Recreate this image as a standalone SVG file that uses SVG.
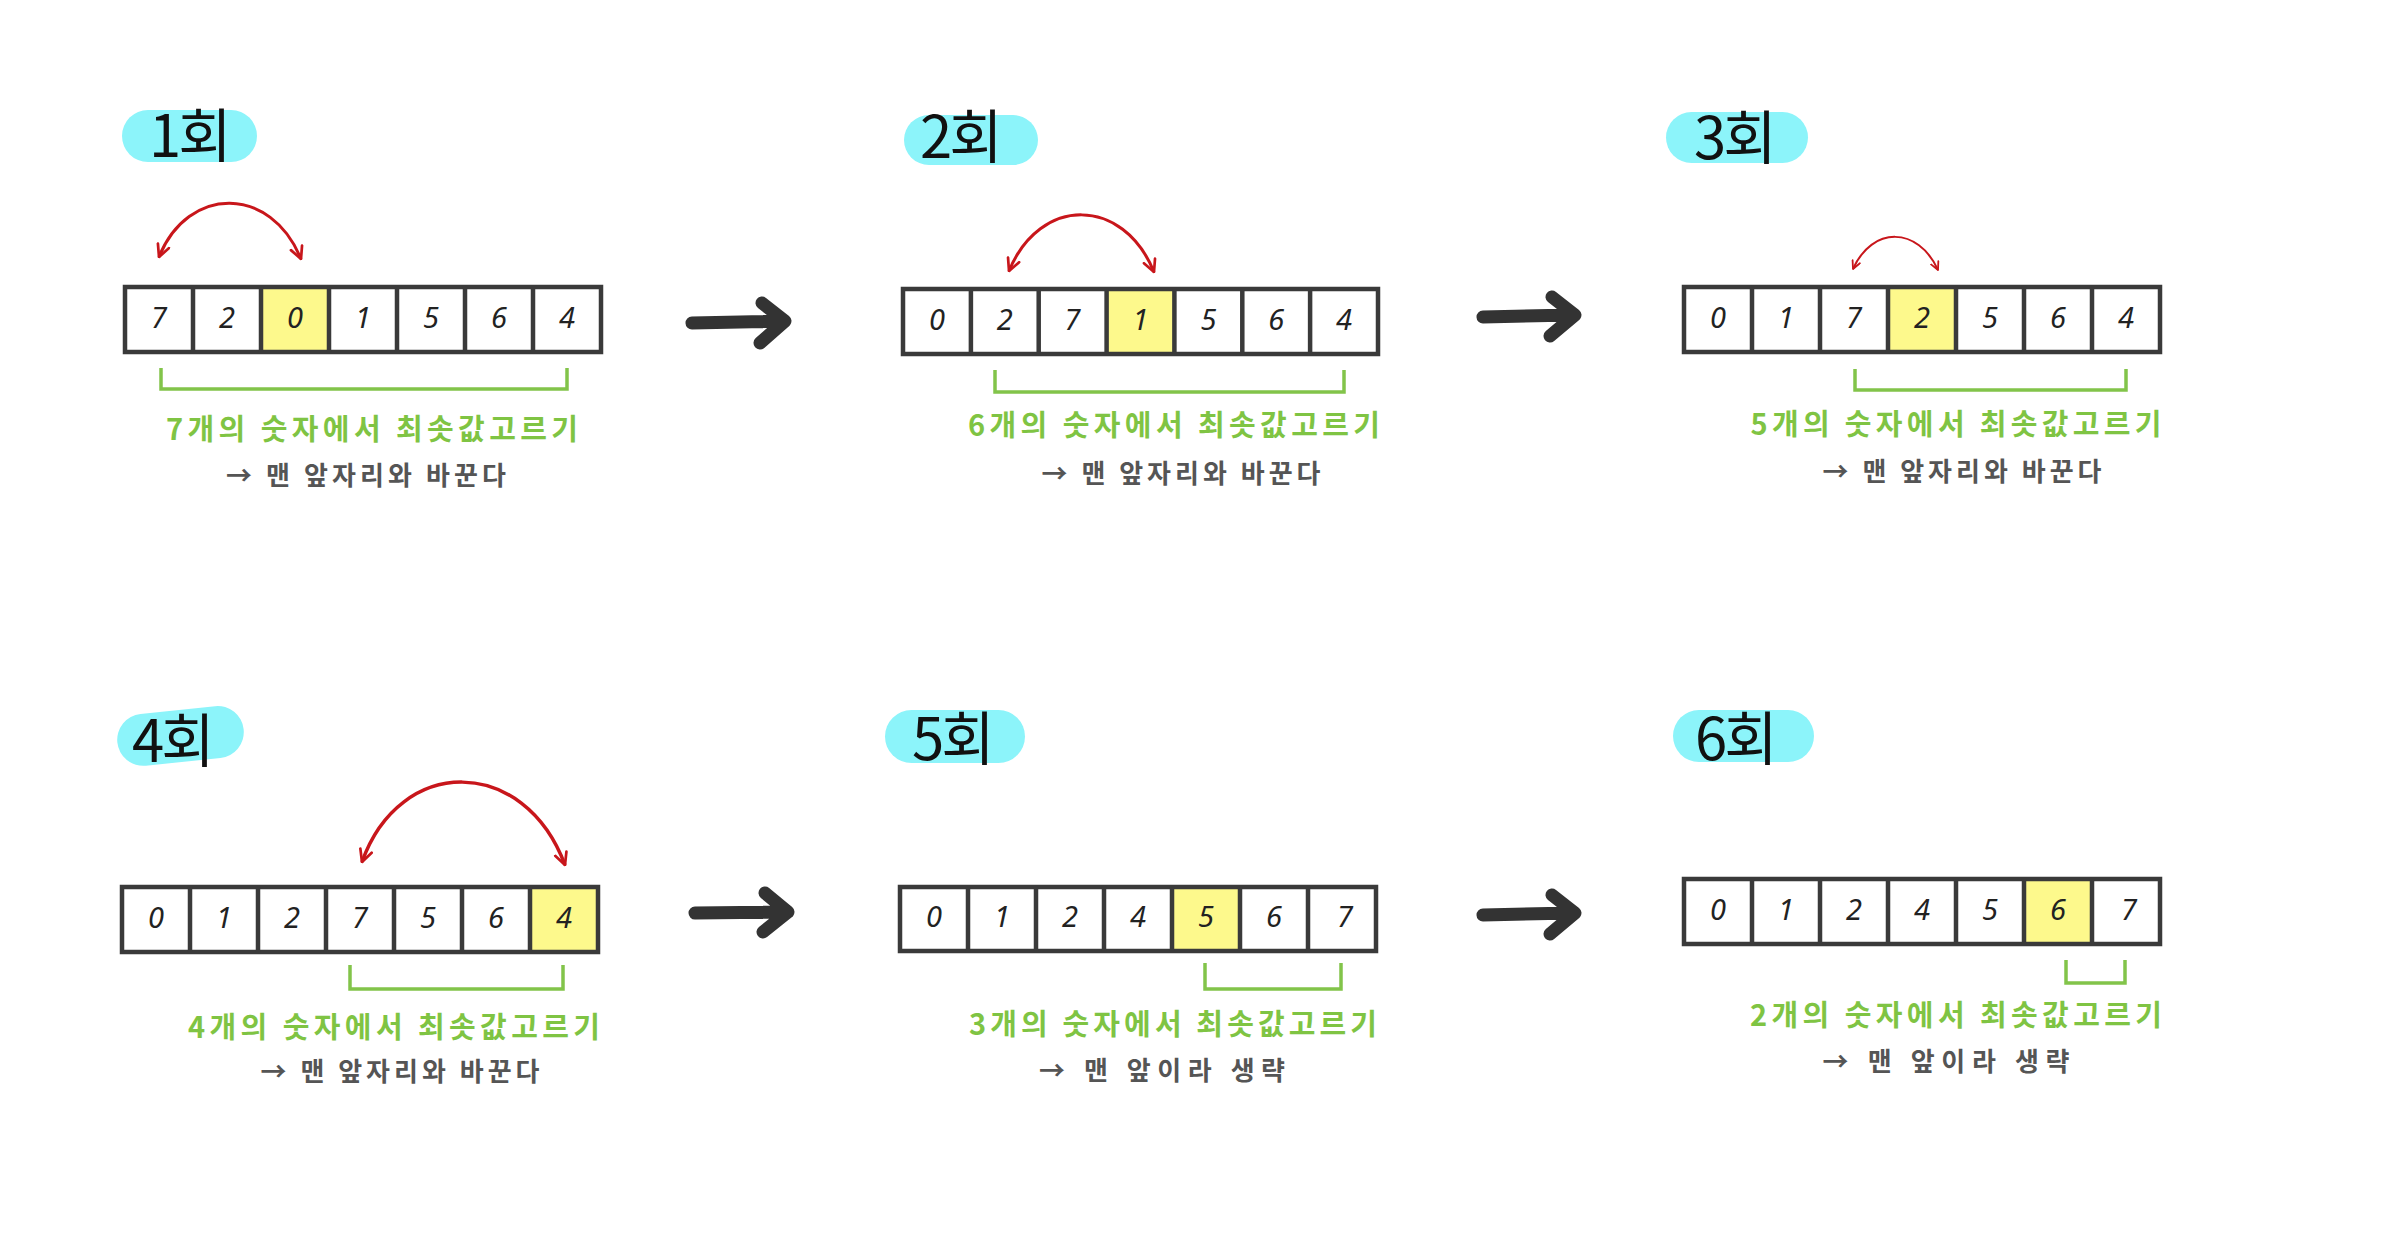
<svg xmlns="http://www.w3.org/2000/svg" width="2386" height="1234" viewBox="0 0 2386 1234">
<defs>
<style>
.blob{fill:#8cf4fa}
.title{font-family:"Noto Sans CJK KR","Noto Sans",sans-serif;font-size:58px;fill:#111;letter-spacing:-3px}
.cell{fill:none;stroke:#3a3a3a;stroke-width:4.5}
.hl{fill:#fdf98c}
.div{stroke:#3a3a3a;stroke-width:4.5;fill:none}
.num{font-family:"Noto Sans","DejaVu Sans",sans-serif;font-style:italic;font-size:29px;fill:#222;text-anchor:middle}
.swap{fill:none;stroke:#c8161b;stroke-width:3;marker-start:url(#rh);marker-end:url(#rh)}
.swap.s{stroke-width:2;marker-start:url(#rhs);marker-end:url(#rhs)}
.brk{fill:none;stroke:#82c44a;stroke-width:3.5}
.gt{font-family:"Noto Sans CJK KR",sans-serif;font-weight:700;font-size:29px;fill:#7fc443;text-anchor:middle}
.dt{font-family:"Noto Sans CJK KR",sans-serif;font-weight:700;font-size:26px;fill:#555;text-anchor:middle}
.big{fill:none;stroke:#333;stroke-width:13;stroke-linecap:round;stroke-linejoin:round}
</style>
<marker id="rh" viewBox="0 0 10 10" refX="9" refY="5" markerWidth="15" markerHeight="15" markerUnits="userSpaceOnUse" orient="auto-start-reverse">
<path d="M1,1 L9,5 L1,9" fill="none" stroke="#c8161b" stroke-width="1.8" stroke-linecap="round" stroke-linejoin="round"/>
</marker>
<marker id="rhs" viewBox="0 0 10 10" refX="9" refY="5" markerWidth="10" markerHeight="10" markerUnits="userSpaceOnUse" orient="auto-start-reverse">
<path d="M1,1 L9,5 L1,9" fill="none" stroke="#c8161b" stroke-width="1.8" stroke-linecap="round" stroke-linejoin="round"/>
</marker>
</defs>
<rect width="2386" height="1234" fill="#fff"/>

<g id="pass1">
<rect class="blob" x="122" y="110" width="135" height="52" rx="26"/>
<text class="title" x="149" y="157">1회</text>
<path class="swap" d="M159,257 C188,185 271,185 301,259"/>
<rect class="hl" x="261" y="287" width="68" height="65"/>
<rect class="cell" x="125" y="287" width="476" height="65"/>
<path class="div" d="M193,287V352M261,287V352M329,287V352M397,287V352M465,287V352M533,287V352"/>
<text class="num" y="328"><tspan x="159">7</tspan><tspan x="227">2</tspan><tspan x="295">0</tspan><tspan x="363">1</tspan><tspan x="431">5</tspan><tspan x="499">6</tspan><tspan x="567">4</tspan></text>
<path class="brk" d="M161,368V389H567V368"/>
<text class="gt" x="372" y="440" textLength="412" lengthAdjust="spacing">7개의 숫자에서 최솟값고르기</text>
<text class="dt" x="366" y="485" textLength="280" lengthAdjust="spacing">→ 맨 앞자리와 바꾼다</text>
</g>

<g id="pass2">
<rect class="blob" x="904" y="115" width="134" height="50" rx="25"/>
<text class="title" x="920" y="158">2회</text>
<path class="swap" d="M1009,271 C1040,196 1123,196 1154,272"/>
<rect class="hl" x="1106.6" y="289" width="67.8" height="65"/>
<rect class="cell" x="903" y="289" width="475" height="65"/>
<path class="div" d="M970.9,289V354M1038.7,289V354M1106.6,289V354M1174.4,289V354M1242.3,289V354M1310.1,289V354"/>
<text class="num" y="330"><tspan x="936.9">0</tspan><tspan x="1004.8">2</tspan><tspan x="1072.6">7</tspan><tspan x="1140.5">1</tspan><tspan x="1208.4">5</tspan><tspan x="1276.2">6</tspan><tspan x="1344.1">4</tspan></text>
<path class="brk" d="M995,370V392H1344V370"/>
<text class="gt" x="1174" y="436" textLength="412" lengthAdjust="spacing">6개의 숫자에서 최솟값고르기</text>
<text class="dt" x="1181" y="483" textLength="279" lengthAdjust="spacing">→ 맨 앞자리와 바꾼다</text>
</g>

<g id="pass3">
<rect class="blob" x="1666" y="112" width="142" height="51" rx="25.5"/>
<text class="title" x="1694" y="159">3회</text>
<path class="swap s" d="M1853,269 C1872,226 1918,226 1938,270"/>
<rect class="hl" x="1888" y="287" width="68" height="65"/>
<rect class="cell" x="1684" y="287" width="476" height="65"/>
<path class="div" d="M1752,287V352M1820,287V352M1888,287V352M1956,287V352M2024,287V352M2092,287V352"/>
<text class="num" y="328"><tspan x="1718">0</tspan><tspan x="1786">1</tspan><tspan x="1854">7</tspan><tspan x="1922">2</tspan><tspan x="1990">5</tspan><tspan x="2058">6</tspan><tspan x="2126">4</tspan></text>
<path class="brk" d="M1855,369V390H2126V369"/>
<text class="gt" x="1956" y="435" textLength="411" lengthAdjust="spacing">5개의 숫자에서 최솟값고르기</text>
<text class="dt" x="1962" y="481" textLength="279" lengthAdjust="spacing">→ 맨 앞자리와 바꾼다</text>
</g>

<g id="pass4">
<rect class="blob" x="117" y="710" width="127" height="52" rx="26" transform="rotate(-6 180 736)"/>
<text class="title" x="132" y="762">4회</text>
<path class="swap" d="M362,862 C400,755 524,755 565,865" style="stroke-width:3.5"/>
<rect class="hl" x="530" y="887" width="68" height="65"/>
<rect class="cell" x="122" y="887" width="476" height="65"/>
<path class="div" d="M190,887V952M258,887V952M326,887V952M394,887V952M462,887V952M530,887V952"/>
<text class="num" y="928"><tspan x="156">0</tspan><tspan x="224">1</tspan><tspan x="292">2</tspan><tspan x="360">7</tspan><tspan x="428">5</tspan><tspan x="496">6</tspan><tspan x="564">4</tspan></text>
<path class="brk" d="M350,965V989H563V965"/>
<text class="gt" x="394" y="1038" textLength="412" lengthAdjust="spacing">4개의 숫자에서 최솟값고르기</text>
<text class="dt" x="400" y="1081" textLength="279" lengthAdjust="spacing">→ 맨 앞자리와 바꾼다</text>
</g>

<g id="pass5">
<rect class="blob" x="885" y="710" width="140" height="53" rx="26.5"/>
<text class="title" x="912" y="760">5회</text>
<rect class="hl" x="1172" y="887" width="68" height="64"/>
<rect class="cell" x="900" y="887" width="476" height="64"/>
<path class="div" d="M968,887V951M1036,887V951M1104,887V951M1172,887V951M1240,887V951M1308,887V951"/>
<text class="num" y="927"><tspan x="934">0</tspan><tspan x="1002">1</tspan><tspan x="1070">2</tspan><tspan x="1138">4</tspan><tspan x="1206">5</tspan><tspan x="1274">6</tspan><tspan x="1345">7</tspan></text>
<path class="brk" d="M1205,963V989H1341V963"/>
<text class="gt" x="1173" y="1035" textLength="408" lengthAdjust="spacing">3개의 숫자에서 최솟값고르기</text>
<text class="dt" x="1162" y="1080" textLength="246" lengthAdjust="spacing">→ 맨 앞이라 생략</text>
</g>

<g id="pass6">
<rect class="blob" x="1673" y="710" width="141" height="52" rx="26"/>
<text class="title" x="1695" y="760">6회</text>
<rect class="hl" x="2024" y="879" width="68" height="65"/>
<rect class="cell" x="1684" y="879" width="476" height="65"/>
<path class="div" d="M1752,879V944M1820,879V944M1888,879V944M1956,879V944M2024,879V944M2092,879V944"/>
<text class="num" y="920"><tspan x="1718">0</tspan><tspan x="1786">1</tspan><tspan x="1854">2</tspan><tspan x="1922">4</tspan><tspan x="1990">5</tspan><tspan x="2058">6</tspan><tspan x="2129">7</tspan></text>
<path class="brk" d="M2066,960V983H2125V960"/>
<text class="gt" x="1956" y="1026" textLength="412" lengthAdjust="spacing">2개의 숫자에서 최솟값고르기</text>
<text class="dt" x="1946" y="1071" textLength="247" lengthAdjust="spacing">→ 맨 앞이라 생략</text>
</g>

<g id="connectors">
<path class="big" d="M692,323 L783,321 M762,303 L785,321 L760,343"/>
<path class="big" d="M1483,317 L1573,315 M1552,297 L1575,315 L1550,336"/>
<path class="big" d="M695,913 L786,912 M765,893 L788,912 L763,932"/>
<path class="big" d="M1483,915 L1573,913 M1552,895 L1575,913 L1550,934"/>
</g>
</svg>
